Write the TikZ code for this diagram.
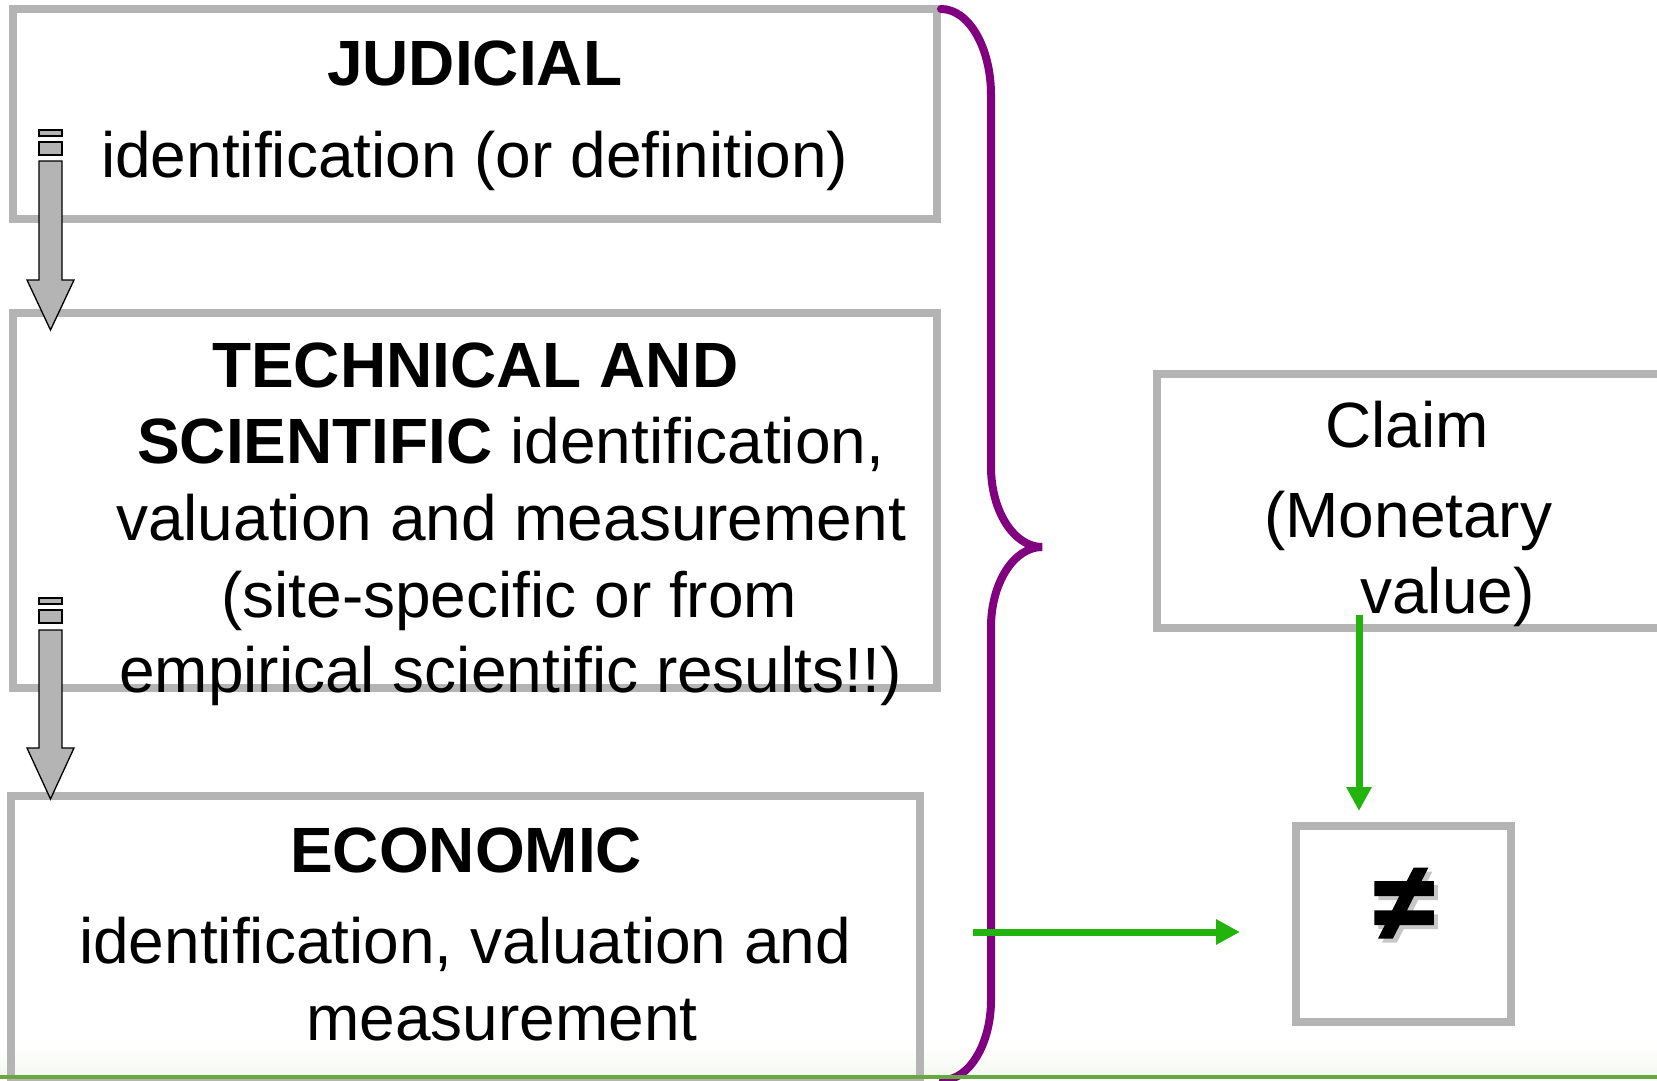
\documentclass[tikz,border=0pt]{standalone}
\usepackage{fontspec}
\setmainfont{Liberation Sans}
\newfontfamily\neqfont[FakeBold=3]{Liberation Sans Bold}
\usetikzlibrary{arrows.meta}
\definecolor{boxgray}{RGB}{180,180,180}
\definecolor{arrgray}{RGB}{180,180,180}
\definecolor{bracepurple}{RGB}{128,0,128}
\definecolor{arrgreen}{RGB}{34,180,12}
\definecolor{linegreen}{RGB}{104,168,64}
\begin{document}
\begin{tikzpicture}[x=1pt,y=-1pt,
  box/.style={draw=boxgray,line width=8pt,rectangle,inner sep=0pt,fill=none},
  txt/.style={inner sep=0pt,anchor=base west,font=\fontsize{64}{64}\selectfont},
  flowarrow/.style={draw=black,line width=1.3pt,fill=arrgray,line join=miter},
  greenarrow/.style={draw=arrgreen,line width=7pt,-{Triangle[length=24pt,width=24pt]}},
  bracestyle/.style={draw=bracepurple,line width=8pt,line cap=round}]
\useasboundingbox (0,0) rectangle (1657,1081);
\clip (0,0) rectangle (1657,1081);
% faint background tint near the bottom
\fill[top color=white,bottom color=linegreen!8,draw=none] (0,1048) rectangle (1657,1076);
% boxes
\node[box,minimum width=924pt,minimum height=210pt] (judicial) at (475,114) {};
\node[box,minimum width=924pt,minimum height=375pt] (technical) at (475,500.5) {};
\node[box,minimum width=909pt,minimum height=285pt] (economic) at (465.5,938.5) {};
\node[box,minimum width=560pt,minimum height=254pt] (claim) at (1437,501) {};
\node[box,minimum width=215pt,minimum height=196pt] (neq) at (1403.5,924) {};
% texts
\node[txt] (j1) at (327,85) {\bfseries JUDICIAL};
\node[txt] (j2) at (101,177) {identification (or definition)};
\node[txt] (s1) at (212,387) {\bfseries TECHNICAL AND};
\node[txt] (s2) at (137,463) {\textbf{SCIENTIFIC} identification,};
\node[txt] (s3) at (116,540) {valuation and measurement};
\node[txt] (s4) at (221,617) {(site-specific or from};
\node[txt] (s5) at (119,692) {empirical scientific results!!)};
\node[txt] (e1) at (290,872) {\bfseries ECONOMIC};
\node[txt] (e2) at (79,963) {identification, valuation and};
\node[txt] (e3) at (306,1040) {measurement};
\node[txt] (c1) at (1325,447) {Claim};
\node[txt] (c2) at (1264,537) {(Monetary};
\node[txt] (c3) at (1360,613) {value)};
% not-equal sign with its shadow
\node[inner sep=0pt,font=\fontsize{108}{108}\neqfont] (neqsign) at (1404,906)
  {\makebox[0pt][l]{\hspace{4pt}\raisebox{-4pt}{\textcolor{black!22}{≠}}}≠};
% gray block arrows
\foreach \t/\s/\h/\tip in {130/161/280/330, 598/630/748/799}{
  \filldraw[flowarrow] (39,\t) rectangle (62,\t+6);
  \filldraw[flowarrow] (39,\t+12) rectangle (62,\t+25);
  \filldraw[flowarrow] (39,\s) -- (62,\s) -- (62,\h) -- (74,\h) -- (50.5,\tip) -- (27,\h) -- (39,\h) -- cycle;
}
% purple brace
\draw[bracestyle] (941,9) .. controls (969,9) and (991,48) .. (991,95)
  -- (991,467) .. controls (991,511) and (1014,547) .. (1042,547)
  .. controls (1014,547) and (991,583) .. (991,627)
  -- (991,1000) .. controls (991,1044) and (969,1080) .. (943,1080);
% green arrows
\coordinate (hstart) at (973,932);
\coordinate (hend) at (1240,932);
\coordinate (vstart) at (1359,615);
\coordinate (vend) at (1359,811);
\draw[greenarrow] (hstart) -- (hend);
\draw[greenarrow] (vstart) -- (vend);
% bottom green line
\draw[linegreen,line width=4pt] (0,1077) -- (1657,1077);
\end{tikzpicture}
\end{document}
